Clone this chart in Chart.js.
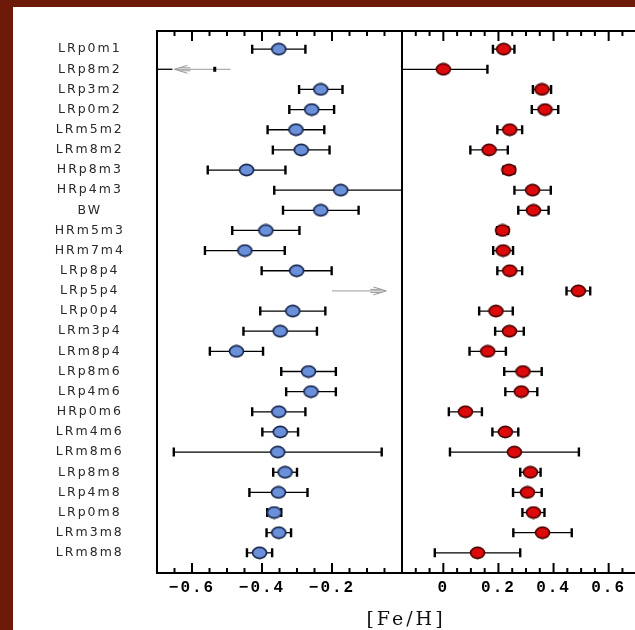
<!DOCTYPE html>
<html>
<head>
<meta charset="utf-8">
<script src="https://cdn.jsdelivr.net/npm/chart.js@4/dist/chart.umd.min.js"></script>
<style>
html, body { margin: 0; padding: 0; width: 635px; height: 630px; overflow: hidden; background: #fff; }
#frameLeft { position: absolute; left: 0; top: 0; width: 13px; height: 630px; background: #6e1a08; z-index: 2; }
#frameTop { position: absolute; left: 0; top: 0; width: 635px; height: 7px; background: #6e1a08; z-index: 2; }
#left { position: absolute; left: 0; top: 0; }
#right { position: absolute; left: 402px; top: 0; }
#xtitle { position: absolute; left: 306px; width: 200px; top: 607px; text-align: center;
  font: 19px 'DejaVu Serif'; letter-spacing: 3px; color: #111; }
</style>
</head>
<body>
<div id="frameLeft"></div>
<div id="frameTop"></div>
<canvas id="left" width="402" height="630"></canvas>
<canvas id="right" width="248" height="630"></canvas>
<div id="xtitle">[Fe/H]</div>
<script>
const fields = ['LRp0m1', 'LRp8m2', 'LRp3m2', 'LRp0m2', 'LRm5m2', 'LRm8m2', 'HRp8m3', 'HRp4m3', 'BW',
  'HRm5m3', 'HRm7m4', 'LRp8p4', 'LRp5p4', 'LRp0p4', 'LRm3p4', 'LRm8p4', 'LRp8m6', 'LRp4m6',
  'HRp0m6', 'LRm4m6', 'LRm8m6', 'LRp8m8', 'LRp4m8', 'LRp0m8', 'LRm3m8', 'LRm8m8']

// left panel (blue)
const feLeft = [-0.352, null, -0.232, -0.258, -0.303, -0.288, -0.444, -0.175, -0.232,
  -0.389, -0.449, -0.301, null, -0.312, -0.348, -0.473, -0.267, -0.26,
  -0.352, -0.348, -0.355, -0.334, -0.353, -0.365, -0.352, -0.407]
const errLeft = [0.076, 0, 0.062, 0.064, 0.081, 0.081, 0.111, 0.19, 0.108,
  0.096, 0.114, 0.10, 0, 0.093, 0.105, 0.076, 0.078, 0.071,
  0.076, 0.051, 0.297, 0.034, 0.083, 0.02, 0.035, 0.036]

// right panel (red)
const feRight = [0.219, 0.0, 0.358, 0.369, 0.241, 0.166, 0.238, 0.324, 0.327,
  0.215, 0.217, 0.241, 0.49, 0.191, 0.24, 0.161, 0.289, 0.283,
  0.080, 0.225, 0.258, 0.316, 0.305, 0.327, 0.36, 0.124]
const errRight = [0.039, 0.16, 0.033, 0.048, 0.045, 0.068, 0.02, 0.066, 0.055,
  0.02, 0.036, 0.045, 0.043, 0.061, 0.052, 0.066, 0.068, 0.058,
  0.060, 0.047, 0.234, 0.037, 0.052, 0.04, 0.106, 0.155]

// limits in the left panel: row, arrow tail, arrow tip
const limitRows = [1, 12]
const limitFrom = [-0.49, -0.20]
const limitTo = [-0.65, -0.045]
const limitMark = [-0.535, null]
const stubFrom = [-0.70, null]
const stubTo = [-0.656, null]

const leftRange = [-0.7, 0]
const rightRange = [-0.15, 0.75]

const isMajor = v => Math.abs(Math.round(v * 100) % 20) === 0

const markerImage = (fill, stroke) => {
	const c = document.createElement('canvas')
	c.width = 17
	c.height = 14
	const g = c.getContext('2d')
	g.beginPath()
	g.ellipse(8.5, 7, 7, 5.6, 0, 0, Math.PI * 2)
	g.fillStyle = fill
	g.fill()
	g.lineWidth = 1.6
	g.strokeStyle = stroke
	g.stroke()
	return c
}

const spacing = {
	id: 'spacing',
	beforeUpdate(chart) { chart.ctx.letterSpacing = '2px' },
	beforeDraw(chart) { chart.ctx.letterSpacing = '2px' }
}

const errorBars = {
	id: 'errorBars',
	beforeDatasetsDraw(chart) {
		const { ctx, chartArea: a, scales: { x, y } } = chart
		ctx.save()
		ctx.beginPath()
		ctx.rect(a.left, a.top, a.width, a.height)
		ctx.clip()
		ctx.strokeStyle = '#000'
		chart.data.datasets[0].data.forEach(p => {
			const py = y.getPixelForValue(p.y)
			const x0 = x.getPixelForValue(p.x - p.err)
			const x1 = x.getPixelForValue(p.x + p.err)
			ctx.lineWidth = 1.3
			ctx.beginPath()
			ctx.moveTo(x0, py)
			ctx.lineTo(x1, py)
			ctx.stroke()
			ctx.lineWidth = 2.4
			ctx.beginPath()
			ctx.moveTo(x0, py - 4.5)
			ctx.lineTo(x0, py + 4.5)
			ctx.moveTo(x1, py - 4.5)
			ctx.lineTo(x1, py + 4.5)
			ctx.stroke()
		})
		ctx.restore()
	}
}

const limits = {
	id: 'limits',
	beforeDatasetsDraw(chart) {
		const { ctx, scales: { x, y } } = chart
		ctx.save()
		limitRows.forEach((row, i) => {
			const py = y.getPixelForValue(row)
			const a = x.getPixelForValue(limitFrom[i])
			const b = x.getPixelForValue(limitTo[i])
			const dir = b > a ? 1 : -1
			ctx.strokeStyle = '#9a9a9a'
			ctx.lineWidth = 1
			ctx.beginPath()
			ctx.moveTo(a, py)
			ctx.lineTo(b, py)
			ctx.moveTo(b, py)
			ctx.lineTo(b - dir * 13, py - 4)
			ctx.moveTo(b, py)
			ctx.lineTo(b - dir * 13, py + 4)
			ctx.moveTo(b - dir * 5, py - 1.5)
			ctx.lineTo(b - dir * 16, py - 1.5)
			ctx.moveTo(b - dir * 5, py + 1.5)
			ctx.lineTo(b - dir * 16, py + 1.5)
			ctx.stroke()
			ctx.strokeStyle = '#000'
			if (stubFrom[i] !== null) {
				ctx.lineWidth = 1.3
				ctx.beginPath()
				ctx.moveTo(x.getPixelForValue(stubFrom[i]), py)
				ctx.lineTo(x.getPixelForValue(stubTo[i]), py)
				ctx.stroke()
			}
			if (limitMark[i] !== null) {
				const m = x.getPixelForValue(limitMark[i])
				ctx.lineWidth = 3
				ctx.beginPath()
				ctx.moveTo(m, py - 2.5)
				ctx.lineTo(m, py + 2.5)
				ctx.stroke()
			}
		})
		ctx.restore()
	}
}

const panelFrame = {
	id: 'panelFrame',
	afterDatasetsDraw(chart) {
		const { ctx, chartArea: a, scales: { x } } = chart
		ctx.save()
		ctx.strokeStyle = '#000'
		ctx.lineWidth = 2
		ctx.strokeRect(a.left, a.top, a.width, a.height)
		x.ticks.forEach(t => {
			const px = x.getPixelForValue(t.value)
			if (px < a.left + 3 || px > a.right - 3) return
			const len = isMajor(t.value) ? 10 : 5
			ctx.beginPath()
			ctx.moveTo(px, a.bottom)
			ctx.lineTo(px, a.bottom - len)
			ctx.moveTo(px, a.top)
			ctx.lineTo(px, a.top + len)
			ctx.stroke()
		})
		ctx.restore()
	}
}

const noPadding = s => {
	s.paddingTop = 0
	s.paddingBottom = 0
	s.paddingLeft = 0
	s.paddingRight = 0
}

const xAxis = (range, showLabel) => ({
	type: 'linear',
	min: range[0],
	max: range[1],
	grid: { display: false, drawTicks: false },
	border: { display: false },
	afterFit: s => { s.height = 57; noPadding(s) },
	ticks: {
		stepSize: 0.05,
		maxTicksLimit: 100,
		autoSkip: false,
		maxRotation: 0,
		padding: 5,
		color: '#000',
		font: { family: 'Liberation Mono', size: 16, weight: 'bold' },
		callback: v => {
			if (!isMajor(v) || !showLabel(v)) return ''
			const r = Math.round(v * 10) / 10
			if (r === 0) return '0'
			return (r < 0 ? '\u2212' : '') + Math.abs(r).toFixed(1)
		}
	}
})

const yAxis = visible => ({
	type: 'linear',
	display: visible,
	reverse: true,
	min: -0.9,
	max: 26,
	grid: { display: false, drawTicks: false },
	border: { display: false },
	afterBuildTicks: s => { s.ticks = fields.map((f, i) => ({ value: i })) },
	afterFit: s => { if (visible) s.width = 157; noPadding(s) },
	ticks: {
		autoSkip: false,
		crossAlign: 'center',
		padding: 32,
		color: '#2a2a2a',
		font: { family: 'DejaVu Sans', size: 12.5 },
		callback: v => fields[v]
	}
})

const panel = (id, values, errs, range, fill, stroke, showLabel, extra) => {
	const points = values
		.map((v, i) => ({ x: v, y: i, err: errs[i] }))
		.filter(p => p.x !== null)

	const ctx = document.getElementById(id).getContext('2d')

	return new Chart(ctx, {
		type: 'scatter',
		data: {
			datasets: [
				{
					data: points,
					pointStyle: markerImage(fill, stroke),
					pointRadius: 7
				}
			]
		},
		options: {
			responsive: false,
			animation: false,
			events: [],
			layout: { autoPadding: false, padding: { left: 0, right: 0, top: 31, bottom: 0 } },
			plugins: { legend: { display: false }, tooltip: { enabled: false } },
			scales: {
				x: xAxis(range, showLabel),
				y: yAxis(id === 'left')
			}
		},
		plugins: [spacing, errorBars, panelFrame].concat(extra)
	})
}

window.addEventListener('load', () => {
	panel('left', feLeft, errLeft, leftRange, '#6b90da', '#14234a', v => v < -0.01, [limits])
	panel('right', feRight, errRight, rightRange, '#dc0a0a', '#4a0000', v => v > -0.01, [])
})
</script>
</body>
</html>
